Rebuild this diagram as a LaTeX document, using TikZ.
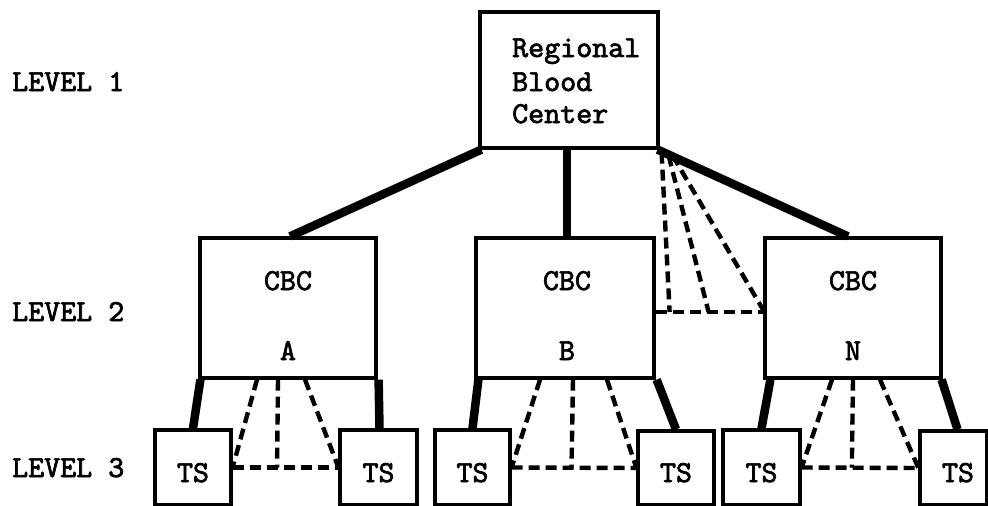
\documentclass[tikz,border=0pt]{standalone}
\usepackage{fontspec}
\newfontfamily\twfont{lmmono10-regular.otf}[FakeBold=2.2]
\usetikzlibrary{calc}
\begin{document}
\begin{tikzpicture}[x=1pt,y=-1pt,
  bx/.style={draw,line width=3.2pt,inner sep=0pt},
  txt/.style={inner sep=0pt,font=\fontsize{30.5}{33}\twfont},
  thick link/.style={line width=8.5pt},
  dash link/.style={line width=4.4pt,dash pattern=on 11pt off 6pt}]
\useasboundingbox (0,0) rectangle (988,506);
% boxes
\node[bx,minimum width=178pt,minimum height=136pt] (R) at (569,80) {};
\node[bx,minimum width=176pt,minimum height=140pt] (A) at (288,308) {};
\node[bx,minimum width=178pt,minimum height=140pt] (B) at (565,308) {};
\node[bx,minimum width=176pt,minimum height=140pt] (N) at (853,308) {};
\node[bx,minimum width=76pt,minimum height=75pt] (A1) at (193,467.5) {};
\node[bx,minimum width=77pt,minimum height=75pt] (A2) at (378.5,467.5) {};
\node[bx,minimum width=75pt,minimum height=75pt] (B1) at (472.5,467.5) {};
\node[bx,minimum width=76pt,minimum height=74pt] (B2) at (676,468) {};
\node[bx,minimum width=77pt,minimum height=75pt] (N1) at (761.5,467.5) {};
\node[bx,minimum width=67pt,minimum height=74pt] (N2) at (953.5,468) {};
% texts
\node[txt,anchor=base west] (t1) at (512,57) {Regional};
\node[txt,anchor=base west] (t2) at (512,91) {Blood};
\node[txt,anchor=base west] (t3) at (512,123) {Center};
\node[txt,anchor=base] (ca) at (288,290) {CBC};
\node[txt,anchor=base] (la) at (288,360) {A};
\node[txt,anchor=base] (cb) at (567,290) {CBC};
\node[txt,anchor=base] (lb) at (567,360) {B};
\node[txt,anchor=base] (cn) at (853,290) {CBC};
\node[txt,anchor=base] (ln) at (853,360) {N};
\node[txt,anchor=base] (s1) at (193,482) {TS};
\node[txt,anchor=base] (s2) at (378.5,482) {TS};
\node[txt,anchor=base] (s3) at (472.5,482) {TS};
\node[txt,anchor=base] (s4) at (676,482) {TS};
\node[txt,anchor=base] (s5) at (761.5,482) {TS};
\node[txt,anchor=base] (s6) at (958,482) {TS};
\node[txt,anchor=base west] (L1) at (12,91) {LEVEL 1};
\node[txt,anchor=base west] (L2) at (12,321) {LEVEL 2};
\node[txt,anchor=base west] (L3) at (12,477) {LEVEL 3};
% level 1 -> level 2
\draw[thick link] ($(R.south west)+(3,0)$) -- ($(A.north)+(2,0)$);
\draw[thick link] ($(R.south)+(-2,0)$) -- ($(B.north)+(2,0)$);
\draw[thick link] ($(R.south east)+(-2,0)$) -- ($(N.north)+(-5,0)$);
\coordinate (h1) at ($(B.east)+(14,4)$);
\coordinate (h2) at ($(B.east)+(53,4)$);
\coordinate (h3) at ($(N.west)+(1,4)$);
\draw[dash link] ($(R.south east)+(2,3)$) -- (h1);
\draw[dash link] ($(R.south east)+(9,6)$) -- (h2);
\draw[dash link] ($(R.south east)+(13,6)$) -- (h3);
\draw[dash link] ($(B.east)+(0,4)$) -- (h3);
% level 2 -> level 3 : A
\draw[thick link] ($(A.south west)+(2,0)$) -- (A1.north);
\draw[thick link] ($(A.south east)+(1,0)$) -- ($(A2.north)+(1,0)$);
\coordinate (am) at ($(A.south)+(-10,0)$);
\coordinate (amb) at ($(A1.east)!0.42!(A2.west)$);
\draw[dash link] ($(A.south)+(-31,0)$) -- (A1.east);
\draw[dash link] (am) -- (amb);
\draw[dash link] ($(A.south)+(17,0)$) -- (A2.west);
\draw[dash link] (A1.east) -- (A2.west);
% B
\draw[thick link] ($(B.south west)+(4,0)$) -- (B1.north);
\draw[thick link] ($(B.south east)+(1,0)$) -- (B2.north);
\coordinate (bm) at ($(B.south)+(8,0)$);
\coordinate (bmb) at ($(B1.east)!0.48!(B2.west)$);
\draw[dash link] ($(B.south)+(-25,0)$) -- (B1.east);
\draw[dash link] (bm) -- (bmb);
\draw[dash link] ($(B.south)+(42,0)$) -- (B2.west);
\draw[dash link] (B1.east) -- (B2.west);
% N
\draw[thick link] ($(N.south west)+(7,0)$) -- (N1.north);
\draw[thick link] ($(N.south east)+(-1,0)$) -- ($(N2.north)+(4,0)$);
\coordinate (nm) at ($(N.south)+(0,0)$);
\coordinate (nmb) at ($(N1.east)!0.43!(N2.west)$);
\draw[dash link] ($(N.south)+(-21,0)$) -- (N1.east);
\draw[dash link] (nm) -- (nmb);
\draw[dash link] ($(N.south)+(27,0)$) -- (N2.west);
\draw[dash link] (N1.east) -- (N2.west);
\end{tikzpicture}
\end{document}
